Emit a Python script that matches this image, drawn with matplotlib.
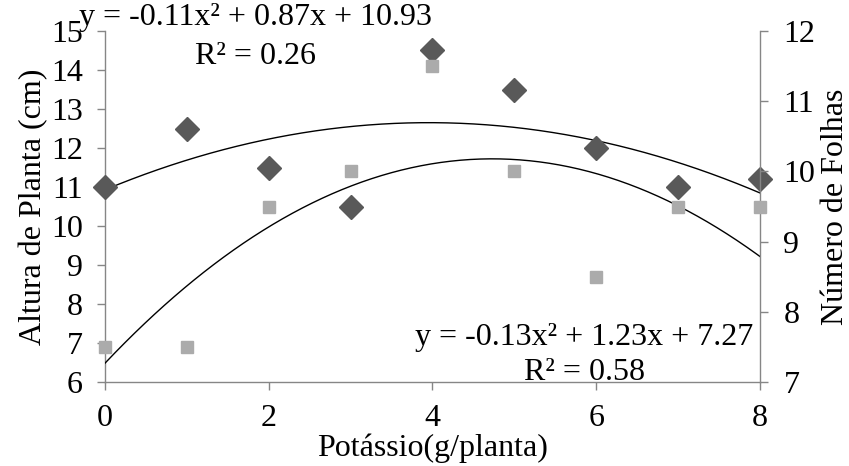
import numpy as np
import matplotlib
matplotlib.use("Agg")
import matplotlib.pyplot as plt

plt.rcParams['font.family'] = ['Liberation Serif', 'DejaVu Serif']

# Data
potassio = [0, 1, 2, 3, 4, 5, 6, 7, 8]
altura = [11.0, 12.5, 11.5, 10.5, 14.5, 13.5, 12.0, 11.0, 11.2]
folhas = [7.5, 7.5, 9.5, 10.0, 11.5, 10.0, 8.5, 9.5, 9.5]
coef_altura = [-0.11, 0.87, 10.93]
coef_folhas = [-0.13, 1.23, 7.27]
eq_altura = "y = -0.11x² + 0.87x + 10.93"
r2_altura = "R² = 0.26"
eq_folhas = "y = -0.13x² + 1.23x + 7.27"
r2_folhas = "R² = 0.58"
left_ticks = list(range(6, 16))
right_ticks = list(range(7, 13))
x_ticks = [0, 2, 4, 6, 8]

FS = 23
axis_gray = '#868686'

fig = plt.figure(figsize=(8.49, 4.66), dpi=100)
ax = fig.add_axes([0.1237, 0.180, 0.7713, 0.7535])
ax2 = ax.twinx()

xs = np.linspace(0, 8, 200)
ax.plot(xs, np.polyval(coef_altura, xs), color='black', lw=1.0, zorder=2)
ax2.plot(xs, np.polyval(coef_folhas, xs), color='black', lw=1.0, zorder=2)

ax.plot(potassio, altura, linestyle='none', marker='D', ms=12.5,
        color='#595959', mec='#595959', zorder=3, clip_on=False)
ax2.plot(potassio, folhas, linestyle='none', marker='s', ms=8.5,
         color='#ababab', mec='#ababab', zorder=3, clip_on=False)

ax.set_xlim(0, 8)
ax.set_ylim(6, 15)
ax2.set_ylim(7, 12)
ax.set_xticks(x_ticks)
ax.set_yticks(left_ticks)
ax2.set_yticks(right_ticks)

for a in (ax, ax2):
    a.spines['top'].set_visible(False)
    for s in ('left', 'right', 'bottom'):
        a.spines[s].set_color(axis_gray)
        a.spines[s].set_linewidth(1.0)
    a.tick_params(colors=axis_gray, labelcolor='black', labelsize=FS,
                  direction='out', length=6, width=1.0)
ax.spines['right'].set_visible(False)
ax2.spines['left'].set_visible(False)
ax2.spines['bottom'].set_visible(False)
ax.tick_params(axis='y', pad=10)
ax.tick_params(axis='x', pad=10)
ax2.tick_params(axis='y', pad=11)

ax.set_xlabel("Potássio(g/planta)", fontsize=FS, labelpad=0)
ax.set_ylabel("Altura de Planta (cm)", fontsize=FS, labelpad=2)
ax2.set_ylabel("Número de Folhas", fontsize=FS, labelpad=4)

fig.text(79/849, 1-18/466, eq_altura, fontsize=FS, ha='left', va='center')
fig.text(255/849, 1-56/466, r2_altura, fontsize=FS, ha='center', va='center')
fig.text(415/849, 1-338/466, eq_folhas, fontsize=FS, ha='left', va='center')
fig.text(584/849, 1-373/466, r2_folhas, fontsize=FS, ha='center', va='center')

fig.savefig("out.png", dpi=100)
